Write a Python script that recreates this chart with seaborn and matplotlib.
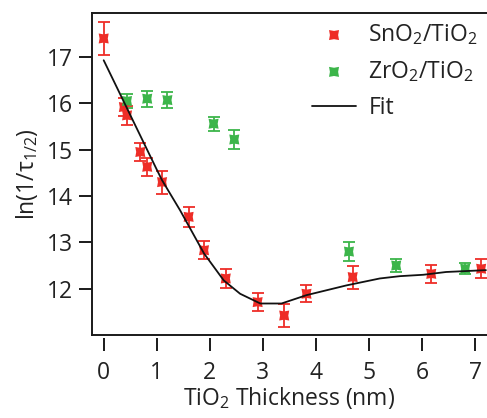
import matplotlib
matplotlib.use("Agg")
import matplotlib.pyplot as plt
import seaborn as sns
import pandas as pd

# ---- data ----
sno2_x = [0.0, 0.38, 0.44, 0.69, 0.82, 1.1, 1.6, 1.89, 2.3, 2.9, 3.4, 3.82, 4.69, 6.17, 7.11]
sno2_y = [17.4, 15.92, 15.74, 14.95, 14.63, 14.3, 13.55, 12.83, 12.22, 11.71, 11.42, 11.89, 12.25, 12.32, 12.43]
sno2_err = [0.35, 0.2, 0.2, 0.2, 0.2, 0.25, 0.22, 0.2, 0.2, 0.2, 0.25, 0.18, 0.25, 0.2, 0.2]

zro2_x = [0.44, 0.82, 1.2, 2.07, 2.46, 4.62, 5.51, 6.81]
zro2_y = [16.05, 16.1, 16.07, 15.56, 15.22, 12.8, 12.5, 12.43]
zro2_err = [0.15, 0.17, 0.17, 0.15, 0.2, 0.2, 0.15, 0.12]

fit_x = [0.0, 0.5, 1.0, 1.1, 1.44, 1.89, 2.26, 2.57, 2.95, 3.35, 3.82, 4.57, 5.2, 5.58, 6.02, 6.45, 7.2]
fit_y = [16.93, 15.75, 14.57, 14.34, 13.69, 12.76, 12.18, 11.89, 11.68, 11.68, 11.86, 12.07, 12.22, 12.27, 12.3, 12.36, 12.4]

x_ticks = [0, 1, 2, 3, 4, 5, 6, 7]
y_ticks = [12, 13, 14, 15, 16, 17]

red = "#ee2d27"
green = "#3cb54a"
ink = "#222222"
FS = 16.5

sns.set_theme(style="white")
plt.rcParams["font.family"] = ["Open Sans", "DejaVu Sans"]
plt.rcParams["mathtext.fontset"] = "custom"
plt.rcParams["mathtext.rm"] = "Open Sans"
plt.rcParams["mathtext.it"] = "Open Sans"
plt.rcParams["mathtext.default"] = "regular"

# slightly concave-square marker (Igor style)
star = [(-1, -1), (0, -0.82), (1, -1), (0.82, 0), (1, 1), (0, 0.82), (-1, 1), (-0.82, 0), (-1, -1)]

fig = plt.figure(figsize=(4.87, 4.18), dpi=100)
ax = fig.add_axes([92 / 487, 1 - 335 / 418, 1 - 92 / 487, (335 - 13) / 418])

df_sn = pd.DataFrame({"x": sno2_x, "y": sno2_y})
df_zr = pd.DataFrame({"x": zro2_x, "y": zro2_y})
df_fit = pd.DataFrame({"x": fit_x, "y": fit_y})

ax.errorbar(sno2_x, sno2_y, yerr=sno2_err, fmt="none", ecolor=red, elinewidth=1.3,
            capsize=4, capthick=1.3, zorder=2)
ax.errorbar(zro2_x, zro2_y, yerr=zro2_err, fmt="none", ecolor=green, elinewidth=1.3,
            capsize=4, capthick=1.3, zorder=2)

sns.scatterplot(data=df_sn, x="x", y="y", ax=ax, color=red, marker=star, s=52,
                edgecolor="none", label="SnO$_2$/TiO$_2$", zorder=3)
sns.scatterplot(data=df_zr, x="x", y="y", ax=ax, color=green, marker=star, s=52,
                edgecolor="none", label="ZrO$_2$/TiO$_2$", zorder=3)
sns.lineplot(data=df_fit, x="x", y="y", ax=ax, color="#111111", linewidth=1.3,
             label="Fit", zorder=4)

ax.set_xlim(-0.22, 7.22)
ax.set_ylim(11.0, 17.95)
ax.set_yticks(y_ticks)
ax.set_xticks([])
ax.set_xlabel("")
ax.set_ylabel("ln(1/τ$_{1/2}$)", fontsize=FS, color=ink, labelpad=5)

for side in ["left", "bottom", "top"]:
    ax.spines[side].set_color("#1a1a1a")
    ax.spines[side].set_linewidth(1.4)
ax.spines["right"].set_visible(False)

ax.tick_params(axis="y", which="major", direction="out", length=9.5, width=1.4,
               color="#1a1a1a", labelsize=FS, labelcolor=ink, left=True, pad=4)

# detached x tick axis (Igor style)
sec = ax.secondary_xaxis(-0.009)
sec.set_xticks(x_ticks)
sec.spines["bottom"].set_visible(False)
sec.tick_params(direction="out", length=9.5, width=1.4, color="#1a1a1a",
                labelsize=FS, labelcolor=ink, pad=7)
sec.set_xlabel("TiO$_2$ Thickness (nm)", fontsize=FS, color=ink, labelpad=0)

leg = ax.legend(loc="upper right", frameon=False, fontsize=FS, handlelength=1.9,
                handletextpad=0.55, labelspacing=0.52, borderaxespad=0.0,
                bbox_to_anchor=(1.0, 1.0), markerscale=1.0)
for t in leg.get_texts():
    t.set_color(ink)

fig.patch.set_facecolor("white")
fig.savefig("out.png", dpi=100, facecolor="white")
